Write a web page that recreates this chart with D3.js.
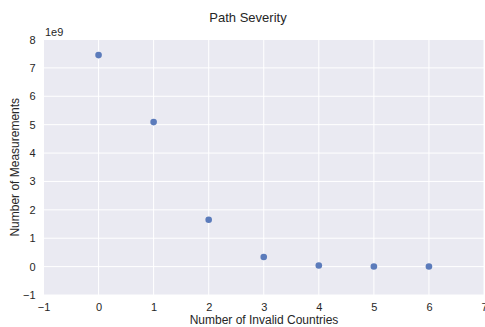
<!DOCTYPE html>
<html><head><meta charset="utf-8">
<script src="https://cdn.jsdelivr.net/npm/d3@7"></script>
<style>body{margin:0;background:#fff}svg{display:block}text{font-family:"Liberation Sans",Arial,sans-serif;fill:#262626}</style>
</head><body><svg id="c" width="485" height="327"></svg>
<script>
const categories = [0, 1, 2, 3, 4, 5, 6];
const measurements = [7.45e9, 5.09e9, 1.65e9, 0.34e9, 0.04e9, 0.005e9, 0.004e9];
const xTicks = [-1, 0, 1, 2, 3, 4, 5, 6, 7];
const yTicks = [-1, 0, 1, 2, 3, 4, 5, 6, 7, 8];

const svg = d3.select("#c");
const L = 43.5, R = 484, T = 39.5, B = 295;
const x = d3.scaleLinear().domain([-1, 7]).range([L, R]);
const y = d3.scaleLinear().domain([-1, 8]).range([B, T]);

svg.append("rect").attr("x", L).attr("y", T).attr("width", R - L).attr("height", B - T).attr("fill", "#eaeaf2");

const ff = "Liberation Sans, Arial, sans-serif";
const gx = svg.append("g").attr("transform", `translate(0,${B})`)
  .call(d3.axisBottom(x).tickValues(xTicks).tickSize(0).tickPadding(8).tickFormat(d => d < 0 ? "\u2212" + Math.abs(d) : d));
gx.select(".domain").remove();
gx.selectAll("text").attr("font-size", 11).style("fill", "#262626").style("font-family", ff);

const gy = svg.append("g").attr("transform", `translate(${L},0)`)
  .call(d3.axisLeft(y).tickValues(yTicks).tickSize(0).tickPadding(8).tickFormat(d => d < 0 ? "\u2212" + Math.abs(d) : d));
gy.select(".domain").remove();
gy.selectAll("text").attr("font-size", 11).style("fill", "#262626").style("font-family", ff);

const grid = svg.append("g");
grid.selectAll(".vx").data(xTicks).join("line")
  .attr("x1", d => x(d)).attr("x2", d => x(d)).attr("y1", T).attr("y2", B)
  .attr("stroke", "#fff").attr("stroke-width", 1);
grid.selectAll(".hy").data(yTicks).join("line")
  .attr("x1", L).attr("x2", R).attr("y1", d => y(d)).attr("y2", d => y(d))
  .attr("stroke", "#fff").attr("stroke-width", 1);

svg.append("g").selectAll("circle").data(categories).join("circle")
  .attr("cx", d => x(d)).attr("cy", (d, i) => y(measurements[i] / 1e9))
  .attr("r", 3.3).attr("fill", "#5b7bbb");

svg.append("text").attr("x", 45).attr("y", 36).attr("font-size", 11).text("1e9");
svg.append("text").attr("x", 248).attr("y", 22).attr("text-anchor", "middle").attr("font-size", 13).text("Path Severity");
svg.append("text").attr("x", 264).attr("y", 324).attr("text-anchor", "middle").attr("font-size", 12).text("Number of Invalid Countries");
svg.append("text").attr("transform", `translate(19,${(T + B) / 2}) rotate(-90)`).attr("text-anchor", "middle").attr("font-size", 12).text("Number of Measurements");
</script></body></html>
